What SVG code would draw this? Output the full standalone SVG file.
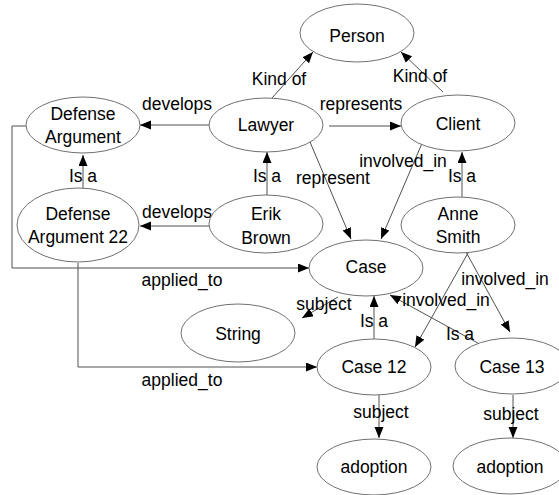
<svg xmlns="http://www.w3.org/2000/svg" width="559" height="495" viewBox="0 0 559 495">
<defs>
<marker id="arr" markerUnits="userSpaceOnUse" markerWidth="12" markerHeight="10" refX="11" refY="4.5" orient="auto">
<path d="M0,0 L11,4.5 L0,9 Z" fill="#000"/>
</marker>
<style>
.n ellipse{fill:#fff;stroke:#707070;stroke-width:1}
text{font-family:"Liberation Sans",Arial,sans-serif;font-size:17.5px;fill:#000;text-anchor:middle}
.e path{fill:none;stroke:#505050;stroke-width:1;marker-end:url(#arr)}
</style>
</defs>
<rect width="559" height="495" fill="#fff"/>
<g id="connectors" class="e">
<path d="M272,98 L313,52"/>
<path d="M443,92 L401,52"/>
<path d="M209,125 L140,125"/>
<path d="M329,126 L401,126"/>
<path d="M310,142 L351,239"/>
<path d="M423,141 L381,239"/>
<path d="M462,197 L462,152"/>
<path d="M267,197 L267,152"/>
<path d="M209,226 L140,226"/>
<path d="M83,188 L83,155"/>
<path d="M26,126 L12,126 L12,268 L309,268"/>
<path d="M78,263 L78,367 L317,367"/>
<path d="M338,297 L302,318"/>
<path d="M374,339 L374,296"/>
<path d="M485,347 L390,295"/>
<path d="M468,253 L415,347"/>
<path d="M466,252 L510,332"/>
<path d="M379,395 L379,438"/>
<path d="M513,395 L513,438"/>
<text x="279" y="85">Kind of</text>
<text x="420" y="82">Kind of</text>
<text x="177" y="110">develops</text>
<text x="361" y="110">represents</text>
<text x="333" y="184">represent</text>
<text x="403" y="167">involved_in</text>
<text x="462" y="182">Is a</text>
<text x="267" y="182">Is a</text>
<text x="177" y="218">develops</text>
<text x="83" y="182">Is a</text>
<text x="182" y="286">applied_to</text>
<text x="182" y="386">applied_to</text>
<text x="324" y="310">subject</text>
<text x="374" y="327">Is a</text>
<text x="460" y="340">Is a</text>
<text x="446" y="306">involved_in</text>
<text x="505" y="285">involved_in</text>
<text x="381" y="418">subject</text>
<text x="511" y="420">subject</text>
</g>
<g id="person" class="n"><ellipse cx="357" cy="33" rx="57" ry="29"/><text x="357" y="42">Person</text></g>
<g id="defense-argument" class="n"><ellipse cx="83" cy="125" rx="57" ry="28"/><text x="83" y="120">Defense</text><text x="83" y="143">Argument</text></g>
<g id="lawyer" class="n"><ellipse cx="266" cy="125" rx="57" ry="27"/><text x="266" y="131">Lawyer</text></g>
<g id="client" class="n"><ellipse cx="458" cy="123" rx="57" ry="28"/><text x="458" y="130">Client</text></g>
<g id="defense-argument-22" class="n"><ellipse cx="78" cy="225" rx="61" ry="37"/><text x="78" y="220">Defense</text><text x="78" y="243">Argument 22</text></g>
<g id="erik-brown" class="n"><ellipse cx="266" cy="224" rx="57" ry="29"/><text x="266" y="220">Erik</text><text x="266" y="244">Brown</text></g>
<g id="anne-smith" class="n"><ellipse cx="458" cy="225" rx="57" ry="28"/><text x="458" y="220">Anne</text><text x="458" y="243">Smith</text></g>
<g id="case" class="n"><ellipse cx="366" cy="268" rx="57" ry="28"/><text x="366" y="273">Case</text></g>
<g id="string" class="n"><ellipse cx="238" cy="333" rx="57" ry="29"/><text x="238" y="340">String</text></g>
<g id="case-12" class="n"><ellipse cx="374" cy="367" rx="57" ry="28"/><text x="374" y="373">Case 12</text></g>
<g id="case-13" class="n"><ellipse cx="512" cy="366" rx="57" ry="28"/><text x="512" y="373">Case 13</text></g>
<g id="adoption-1" class="n"><ellipse cx="374" cy="467" rx="57" ry="28"/><text x="374" y="473">adoption</text></g>
<g id="adoption-2" class="n"><ellipse cx="510" cy="466" rx="57" ry="28"/><text x="510" y="473">adoption</text></g>
</svg>
